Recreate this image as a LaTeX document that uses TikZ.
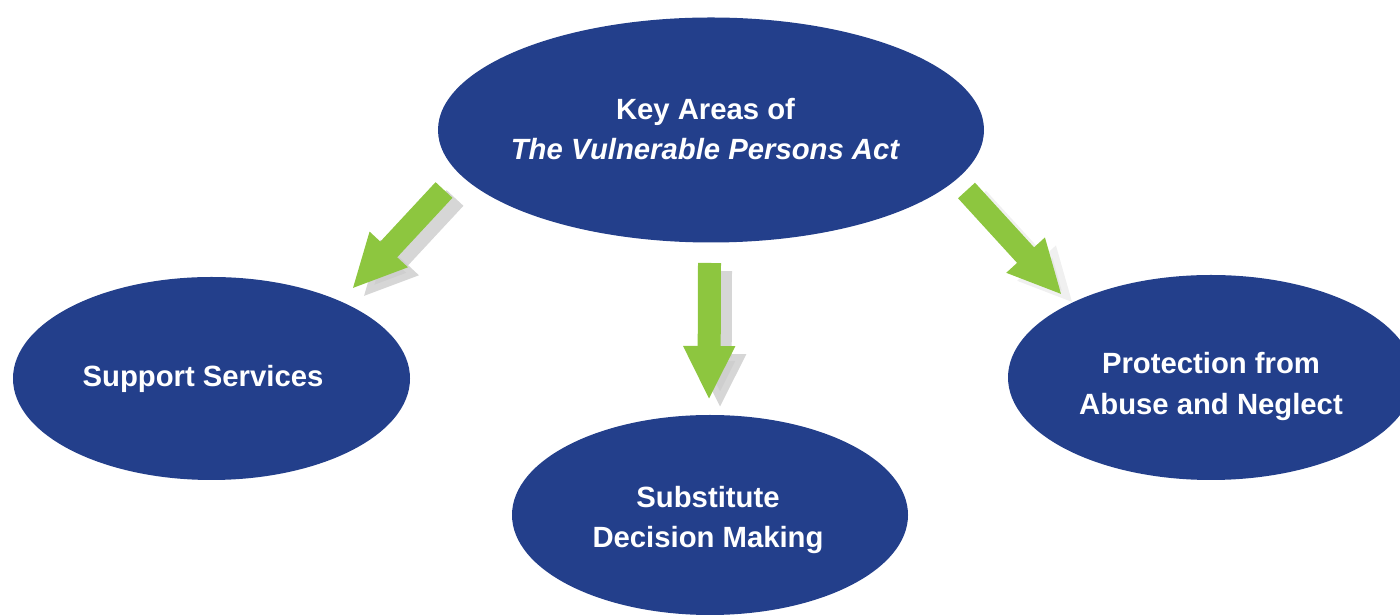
\documentclass[tikz,border=0pt]{standalone}
\usepackage{fontspec}
\setmainfont{Liberation Sans}
\usetikzlibrary{shapes.geometric}
\usetikzlibrary{arrows.meta}
\definecolor{areablue}{HTML}{233F8B}
\definecolor{arrowgreen}{HTML}{8DC63F}
\colorlet{shadowcol}{gray!40}
\tikzset{
  area/.style={ellipse,fill=areablue,inner sep=0pt},
  areatext/.style={text=white,align=center,
    font=\fontsize{8.33}{11.4}\selectfont\bfseries},
  blockarrow/.style={line width=2.3mm,line cap=butt,arrowgreen,
    -{Triangle[width=4.8mm,length=5.4mm]}},
  blockshadow/.style={blockarrow,shadowcol},
}
\begin{document}
\begin{tikzpicture}
  % --- Frame ---
  \useasboundingbox (0,0) rectangle (14,6.15);

  % --- Areas ---
  \node[area, minimum width=5.46cm, minimum height=2.25cm,
    label={[areatext, xshift=-0.55mm, yshift=0.1mm]center:Key Areas of\\\textit{The Vulnerable Persons Act}}]
    (key) at (7.11,4.85) {};
  \node[area, minimum width=3.97cm, minimum height=2.03cm,
    label={[areatext, xshift=-0.85mm]center:Support Services}]
    (support) at (2.115,2.365) {};
  \node[area, minimum width=3.96cm, minimum height=2.0cm,
    label={[areatext, xshift=-0.2mm, yshift=-0.5mm]center:Substitute\\Decision Making}]
    (decision) at (7.10,1.00) {};
  \node[area, minimum width=4.06cm, minimum height=2.05cm,
    label={[areatext, yshift=-0.9mm]center:Protection from\\Abuse and Neglect}]
    (protect) at (12.11,2.375) {};

  % --- Arrow ends ---
  \coordinate (l_tail) at (4.44,4.25);
  \coordinate (l_tip) at (3.52,3.26);
  \coordinate (d_tail) at (7.095,3.52);
  \coordinate (d_tip) at (7.09,2.15);
  \coordinate (r_tail) at (9.665,4.245);
  \coordinate (r_tip) at (10.62,3.20);

  % --- Shadows ---
  \foreach \a/\o in {l/0.8,d/0.8,r/0.3} {%
    \draw[blockshadow, opacity=\o, transform canvas={xshift=1.1mm,yshift=-0.8mm}] (\a_tail) -- (\a_tip);
  }

  % --- Arrows ---
  \foreach \a in {l,d,r} {%
    \draw[blockarrow] (\a_tail) -- (\a_tip);
  }

\end{tikzpicture}
\end{document}
